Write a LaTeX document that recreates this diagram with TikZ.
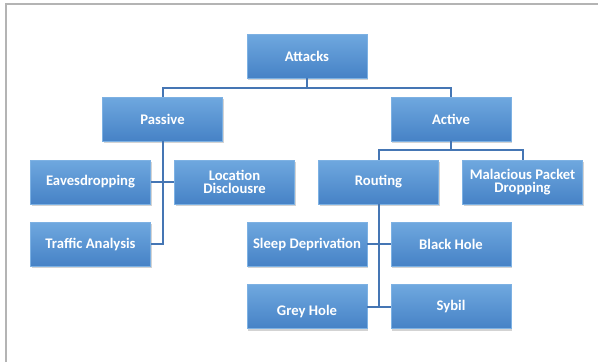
\documentclass[tikz,border=0pt]{standalone}
\usepackage{fontspec}
\setmainfont{Carlito}
\usepackage{tikz}
\usetikzlibrary{shadows}
\definecolor{boxtop}{HTML}{6FA8DF}
\definecolor{boxbot}{HTML}{4682C6}
\definecolor{boxedge}{HTML}{7DB1E3}
\definecolor{linkblue}{HTML}{4576B4}
\definecolor{framegray}{HTML}{B4B4B4}

\begin{document}
\begin{tikzpicture}[x=0.75pt, y=-0.75pt,
		attackbox/.style={draw=boxedge, line width=0.4pt, top color=boxtop, bottom color=boxbot,
			minimum width=90pt, minimum height=33pt, align=center, inner sep=1pt,
			font=\fontsize{11}{9.5}\selectfont\bfseries, text=white,
			drop shadow={shadow xshift=1pt, shadow yshift=-1.5pt, opacity=0.35}},
		link/.style={draw=linkblue, line width=1.5pt}]
	\useasboundingbox (0,0) rectangle (598,362);
	% frame of the figure
	\draw[framegray, line width=1.2pt] (6,362) -- (6,4) -- (598,4);

	\node[attackbox] (attacks) at (307,56) {Attacks};
	\node[attackbox] (passive) at (162.5,119) {Passive};
	\node[attackbox] (active) at (451,119) {Active};

	\node[attackbox] (eaves) at (90.5,182) {Eavesdropping};
	\node[attackbox] (locdisc) at (234.5,182) {Location\\Disclousre};
	\node[attackbox] (traffic) at (90.5,244) {Traffic Analysis};

	\node[attackbox] (routing) at (378.5,182) {Routing};
	\node[attackbox] (malpack) at (522.5,182) {Malacious Packet\\Dropping};
	\node[attackbox] (sleep) at (307,244) {Sleep Deprivation};
	\node[attackbox] (blackhole) at (451,244) {Black Hole};
	\node[attackbox] (greyhole) at (307,306.5) {\raisebox{-7pt}[0pt][0pt]{Grey Hole}};
	\node[attackbox] (sybil) at (451,306.5) {Sybil};

	% connectors
	\draw[link] (attacks.south) -- ++(0,10) -| (passive.north);
	\draw[link] (attacks.south) -- ++(0,10) -| (active.north);
	\draw[link] (passive.south) |- (traffic.east);
	\draw[link] (eaves.east) -- (locdisc.west);
	\draw[link] (active.south) -- ++(0,9) -| (routing.north);
	\draw[link] (active.south) -- ++(0,9) -| (malpack.north);
	\draw[link] (routing.south) |- (sybil.west);
	\draw[link] (sleep.east) -- (blackhole.west);
	\draw[link] (greyhole.east) -- (sybil.west);
\end{tikzpicture}
\end{document}
